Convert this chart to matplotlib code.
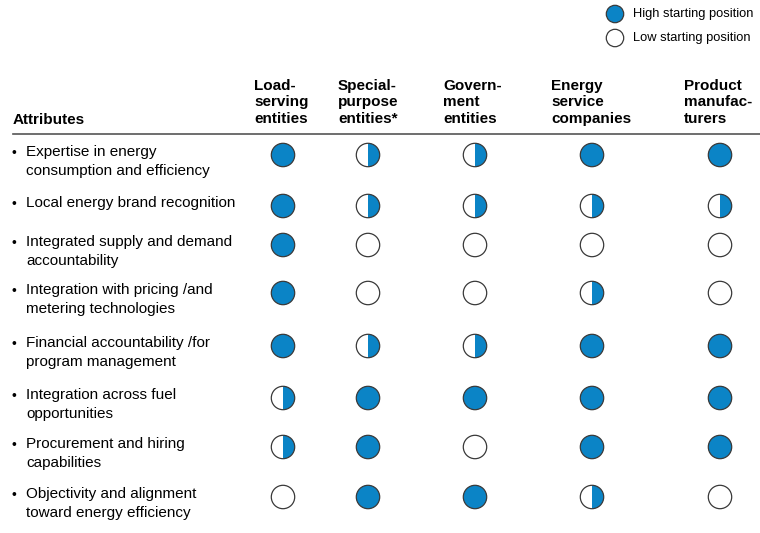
import matplotlib.pyplot as plt
from matplotlib.patches import Circle, Wedge

# Harvey-ball scores: 1 = high, 0.5 = partial, 0 = low
columns = ['Load-\nserving\nentities', 'Special-\npurpose\nentities*', 'Govern-\nment\nentities',
           'Energy\nservice\ncompanies', 'Product\nmanufac-\nturers']
attributes = ['Expertise in energy\nconsumption and efficiency',
              'Local energy brand recognition',
              'Integrated supply and demand\naccountability',
              'Integration with pricing /and\nmetering technologies',
              'Financial accountability /for\nprogram management',
              'Integration across fuel\nopportunities',
              'Procurement and hiring\ncapabilities',
              'Objectivity and alignment\ntoward energy efficiency']
scores = [
    [1, 0.5, 0.5, 1, 1],
    [1, 0.5, 0.5, 0.5, 0.5],
    [1, 0, 0, 0, 0],
    [1, 0, 0, 0.5, 0],
    [1, 0.5, 0.5, 1, 1],
    [0.5, 1, 1, 1, 1],
    [0.5, 1, 0, 1, 1],
    [0, 1, 1, 0.5, 0],
]
legend_labels = ['High starting position', 'Low starting position']

# layout (pixel coordinates)
col_x = [283, 368, 475, 592, 720]
head_x = [254, 338, 443, 551, 684]
row_y = [155, 206, 245, 293, 346, 398, 447, 497]
blue = '#0b84c6'
edge = '#3a3a3a'
font = 'Liberation Sans'
fs = 11

fig = plt.figure(figsize=(7.6, 5.33), dpi=100)
ax = fig.add_axes([0, 0, 1, 1])
ax.set_xlim(0, 760)
ax.set_ylim(533, 0)
ax.axis('off')


def ball(x, y, level, r=11.7):
    ax.add_patch(Circle((x, y), r, facecolor='white', edgecolor='none', zorder=2))
    if level >= 1:
        ax.add_patch(Circle((x, y), r, facecolor=blue, edgecolor='none', zorder=3))
    elif level > 0:
        # y axis is inverted, so right half is still -90..90
        ax.add_patch(Wedge((x, y), r, -90, 90, facecolor=blue, edgecolor='none', zorder=3))
    ax.add_patch(Circle((x, y), r, facecolor='none', edgecolor=edge, lw=0.9, zorder=4))


# header
ax.text(13, 120, 'Attributes', fontsize=fs, fontweight='bold', family=font, va='center')
for hx, name in zip(head_x, columns):
    for i, line in enumerate(name.split('\n')):
        ax.text(hx, 86 + i * 16.3, line, fontsize=fs, fontweight='bold', family=font, va='center')
ax.plot([13, 760], [134, 134], color='#555555', lw=1.2)

# rows
for ry, attr, row in zip(row_y, attributes, scores):
    ax.text(12, ry - 2, '\u2022', fontsize=10, family=font, va='center')
    for i, line in enumerate(attr.split('\n')):
        ax.text(26, ry - 3 + i * 19, line, fontsize=fs, family=font, va='center')
    for cx, s in zip(col_x, row):
        ball(cx, ry, s)

# legend
for ly, lvl, lab in zip([14, 38], [1, 0], legend_labels):
    ball(615, ly, lvl, r=8.7)
    ax.text(633, ly, lab, fontsize=9.3, family=font, va='center')

fig.savefig('out.png', dpi=100)
